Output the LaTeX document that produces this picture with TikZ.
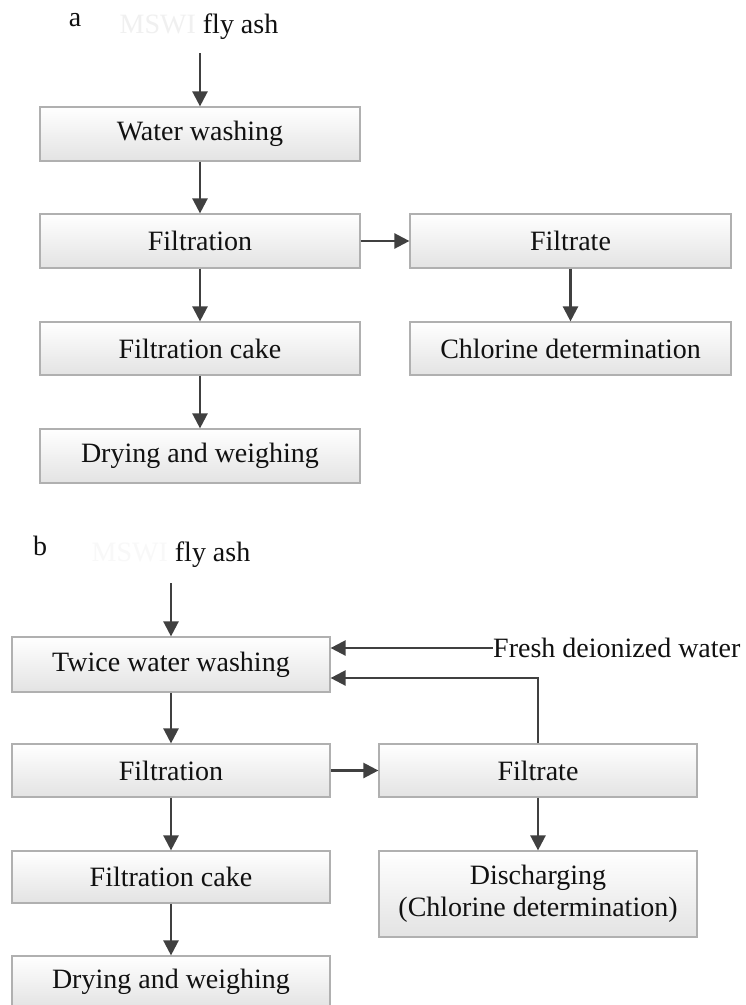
\documentclass[tikz,border=0pt]{standalone}
\usepackage{fontspec}
\setmainfont{Liberation Serif}
\usetikzlibrary{arrows.meta}
\definecolor{boxline}{HTML}{B0B0B0}
\definecolor{arrowc}{HTML}{404040}
\definecolor{txt}{HTML}{111111}
\definecolor{faint}{HTML}{F0F0F0}
\definecolor{fainter}{HTML}{F8F8F8}
\begin{document}
\begin{tikzpicture}[x=1pt,y=-1pt,
  box/.style={draw=boxline, line width=1.2pt, top color=white, bottom color=black!11,
    minimum height=54pt, inner sep=0pt, text=txt, font=\fontsize{28}{32}\selectfont},
  boxa/.style={box, minimum width=320pt},
  boxb/.style={box, minimum width=318pt},
  lbl/.style={text=txt, inner sep=0pt, font=\fontsize{28}{32}\selectfont},
  arr/.style={draw=arrowc, line width=2.4pt, -{Triangle[length=15pt,width=15pt]}}]
\useasboundingbox[fill=white] (0,0) rectangle (746,1005);
% panel a
\node[lbl] (la) at (75,20) {a};
\node[lbl] (srca) at (199,27) {\textcolor{faint}{MSWI} fly ash};
\coordinate (sa) at (200,53);
\node[boxa] (ww) at (200,134) {Water washing};
\node[boxa] (fa) at (200,241) {Filtration};
\node[boxa, minimum width=321pt] (fr) at (570.5,241) {Filtrate};
\node[boxa, minimum width=321pt, minimum height=53pt] (cd) at (570.5,348.5) {Chlorine determination};
\node[boxa, minimum height=53pt] (fc) at (200,348.5) {Filtration cake};
\node[boxa] (dw) at (200,456) {Drying and weighing};
\draw[arr] (sa) -- (ww.north);
\draw[arr] (ww.south) -- (fa.north);
\draw[arr] (fa.east) -- (fr.west);
\draw[arr] (fr.south) -- (cd.north);
\draw[arr] (fa.south) -- (fc.north);
\draw[arr] (fc.south) -- (dw.north);
% panel b
\node[lbl] (lb) at (40,546) {b};
\node[lbl] (srcb) at (171,555) {\textcolor{fainter}{MSWI} fly ash};
\coordinate (sb) at (171,583);
\node[boxb, minimum height=55pt] (tw) at (171,664.5) {Twice water washing};
\node[lbl, anchor=west] (fresh) at (493,648) {Fresh deionized water};
\node[boxb, minimum height=53pt] (fb) at (171,770.5) {Filtration};
\node[boxb, minimum height=53pt] (frb) at (538,770.5) {Filtrate};
\node[boxb, minimum height=86pt, align=center] (dis) at (538,894) {Discharging\\(Chlorine determination)};
\node[boxb, minimum height=52pt] (fcb) at (171,877) {Filtration cake};
\node[boxb, minimum height=52pt] (dwb) at (171,982) {Drying and weighing};
\coordinate (tin1) at (tw.east |- 0,648);
\coordinate (tin2) at (tw.east |- 0,678);
\draw[arr] (sb) -- (tw.north);
\draw[arr] (fresh.west) -- (tin1);
\draw[arr] (frb.north) |- (tin2);
\draw[arr] (tw.south) -- (fb.north);
\draw[arr] (fb.east) -- (frb.west);
\draw[arr] (frb.south) -- (dis.north);
\draw[arr] (fb.south) -- (fcb.north);
\draw[arr] (fcb.south) -- (dwb.north);
\end{tikzpicture}
\end{document}
